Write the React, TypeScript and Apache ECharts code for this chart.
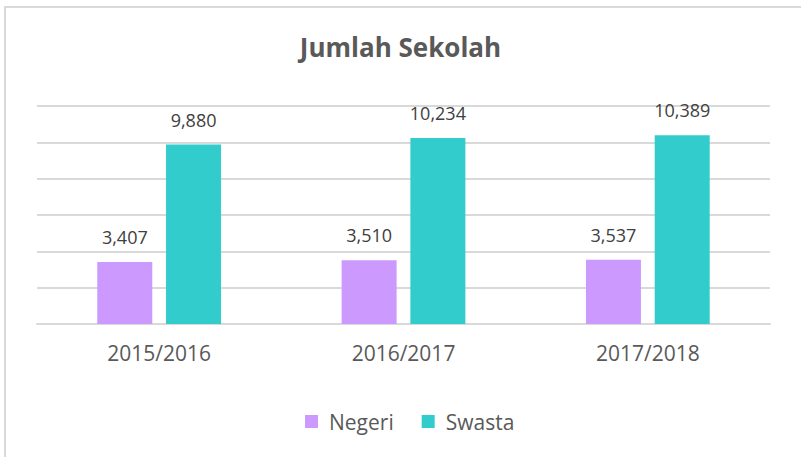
import React, { useEffect, useRef } from "react";
import * as echarts from "echarts";

const categories = ["2015/2016", "2016/2017", "2017/2018"];
const negeri = [3407, 3510, 3537];
const swasta = [9880, 10234, 10389];
const seriesNames = ["Negeri", "Swasta"];

export default function App() {
  const ref = useRef<HTMLDivElement>(null);
  useEffect(() => {
    if (!ref.current) return;
    const chart = echarts.init(ref.current, null, { renderer: "svg" });
    const font = "Open Sans";
    const fmt = (p: any) => Number(p.value).toLocaleString("en-US");
    chart.setOption({
      animation: false,
      backgroundColor: "#ffffff",
      title: {
        text: "Jumlah Sekolah",
        left: "center",
        top: 29,
        textStyle: { fontFamily: font, fontSize: 26, fontWeight: "bold", color: "#595959" },
      },
      graphic: [
        {
          type: "polyline",
          shape: { points: [[5, 457], [5, 7], [801, 7]] },
          style: { stroke: "#d9d9d9", lineWidth: 2, fill: "none" },
          silent: true,
        },
      ],
      legend: {
        data: seriesNames,
        top: 411,
        left: 305,
        padding: 0,
        itemWidth: 13,
        itemHeight: 13,
        itemGap: 28,
        icon: "rect",
        textStyle: { fontFamily: font, fontSize: 21, color: "#595959", padding: [0, 0, 0, 6] },
      },
      grid: { left: 37, right: 31, top: 106, bottom: 133 },
      xAxis: {
        type: "category",
        data: categories,
        axisLine: { show: true, lineStyle: { color: "#d9d9d9", width: 2 } },
        axisTick: { show: false },
        axisLabel: { fontFamily: font, fontSize: 21, color: "#595959", margin: 18 },
      },
      yAxis: {
        type: "value",
        min: 0,
        max: 12000,
        interval: 2000,
        axisLabel: { show: false },
        axisLine: { show: false },
        axisTick: { show: false },
        splitLine: { lineStyle: { color: "#d9d9d9", width: 2 } },
      },
      series: [
        {
          name: seriesNames[0],
          type: "bar",
          data: negeri,
          barWidth: 55,
          barGap: "25%",
          itemStyle: { color: "#cc99ff" },
          label: { show: true, position: "top", distance: 16, formatter: fmt, fontFamily: font, fontSize: 18, color: "#404040" },
        },
        {
          name: seriesNames[1],
          type: "bar",
          data: swasta,
          barWidth: 55,
          barGap: "25%",
          itemStyle: { color: "#33cccc" },
          label: { show: true, position: "top", distance: 16, formatter: fmt, fontFamily: font, fontSize: 18, color: "#404040" },
        },
      ],
    });
    return () => chart.dispose();
  }, []);
  return <div ref={ref} style={{ position: "absolute", left: 0, top: 0, width: 801, height: 457 }} />;
}
